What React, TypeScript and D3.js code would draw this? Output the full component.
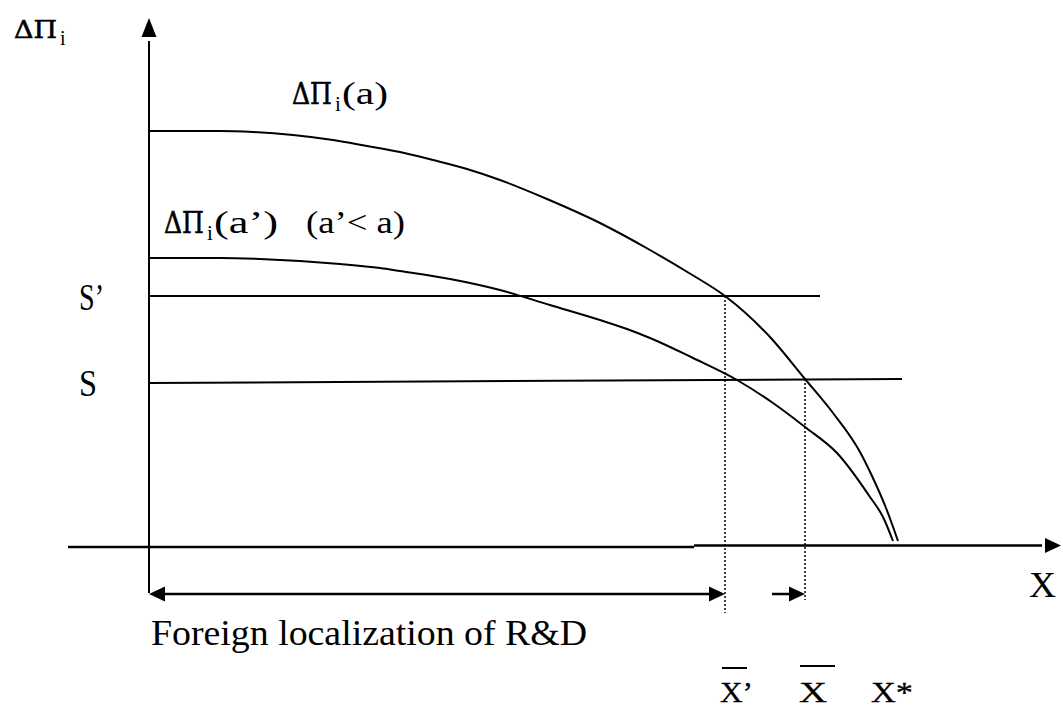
import React from "react";
import * as d3 from "d3";

// Curve ΔΠi(a): x (R&D abroad), y (profit gain)
const upperX = [0, 71, 104, 144, 184, 218, 251, 284, 318, 351, 398, 451, 501, 540, 576, 621, 656, 684, 711, 723, 737, 749];
const upperY = [415, 415, 414, 411, 406, 400, 394, 386, 377, 366, 347, 323, 296, 273, 250, 209, 167, 133, 94, 70, 38, 5];
// Curve ΔΠi(a')
const lowerX = [0, 71, 111, 151, 191, 231, 251, 301, 351, 401, 451, 478, 501, 544, 588, 624, 656, 688, 721, 734, 744];
const lowerY = [288, 288, 287, 285, 282, 278, 275, 267, 256, 241, 226, 217, 208, 188, 166, 143, 119, 93, 49, 29, 5];
// thresholds
const sPrimeLevel = 250;
const sLevel = [163, 167];
const sPrimeEnd = 671;
const sEnd = 753;
// critical points
const xBarPrime = 576;
const xBar = 656;
const xAxisStart = -81;
const yAxisBottom = -47;
const arrowLevel = -48;
const smallArrowStart = 623;

const W = 1063;
const H = 708;

export default function App() {
  const x = d3.scaleLinear().domain([0, 896]).range([149, 1045]);
  const y = d3.scaleLinear().domain([0, 510]).range([546, 36]);

  const line = d3
    .line<[number, number]>()
    .x((d) => x(d[0]))
    .y((d) => y(d[1]))
    .curve(d3.curveMonotoneX);

  const upper: [number, number][] = upperX.map((v, i) => [v, upperY[i]]);
  const lower: [number, number][] = lowerX.map((v, i) => [v, lowerY[i]]);

  const ax0 = x(0);
  const ah = 7.5;
  const arrowY = y(arrowLevel);

  const ts = { fontFamily: "Liberation Serif" } as React.CSSProperties;
  const gs = { fontFamily: "DejaVu Serif" } as React.CSSProperties;

  return (
    <svg
      width={W}
      height={H}
      style={{ position: "absolute", left: 0, top: 0, background: "#fff" }}
    >
      <rect x={0} y={0} width={W} height={H} fill="#fff" />
      {/* Y axis */}
      <line x1={ax0} x2={ax0} y1={y(yAxisBottom)} y2={y(505)} stroke="#000" strokeWidth={2} />
      <polygon points={`${ax0 - ah},${y(509)} ${ax0 + ah},${y(509)} ${ax0},${y(528)}`} fill="#000" />
      {/* X axis */}
      <line x1={x(xAxisStart)} x2={x(545)} y1={547} y2={547} stroke="#000" strokeWidth={2.5} />
      <line x1={x(545)} x2={x(893)} y1={545.5} y2={545.5} stroke="#000" strokeWidth={2.5} />
      <polygon points={`${x(896)},${545.5 - ah} ${x(896)},${545.5 + ah} ${x(912)},545.5`} fill="#000" />

      {/* S' and S levels */}
      <line x1={ax0} x2={x(sPrimeEnd)} y1={y(sPrimeLevel)} y2={y(sPrimeLevel)} stroke="#000" strokeWidth={2} />
      <line x1={ax0} x2={x(sEnd)} y1={y(sLevel[0])} y2={y(sLevel[1])} stroke="#000" strokeWidth={2} />

      {/* curves */}
      <path d={line(upper) || ""} fill="none" stroke="#000" strokeWidth={2} />
      <path d={line(lower) || ""} fill="none" stroke="#000" strokeWidth={2} />

      {/* dotted verticals */}
      <line x1={x(xBarPrime)} x2={x(xBarPrime)} y1={y(sPrimeLevel)} y2={y(-67)} stroke="#000" strokeWidth={1.5} strokeDasharray="2,2" />
      <line x1={x(xBar)} x2={x(xBar)} y1={y(167)} y2={y(-54)} stroke="#000" strokeWidth={1.5} strokeDasharray="2,2" />

      {/* double arrow */}
      <line x1={ax0 + 14} x2={x(xBarPrime) - 14} y1={arrowY} y2={arrowY} stroke="#000" strokeWidth={2.5} />
      <polygon points={`${ax0},${arrowY} ${ax0 + 16},${arrowY - ah} ${ax0 + 16},${arrowY + ah}`} fill="#000" />
      <polygon points={`${x(xBarPrime)},${arrowY} ${x(xBarPrime) - 16},${arrowY - ah} ${x(xBarPrime) - 16},${arrowY + ah}`} fill="#000" />
      {/* small arrow */}
      <line x1={x(smallArrowStart)} x2={x(xBar) - 14} y1={arrowY} y2={arrowY} stroke="#000" strokeWidth={2.5} />
      <polygon points={`${x(xBar)},${arrowY} ${x(xBar) - 16},${arrowY - ah} ${x(xBar) - 16},${arrowY + ah}`} fill="#000" />

      {/* labels */}
      <g fill="#000">
        <text style={gs} x={14} y={38} fontSize={25} textLength={43} lengthAdjust="spacingAndGlyphs" stroke="#000" strokeWidth={0.6}>ΔΠ</text>
        <text style={ts} x={60} y={45} fontSize={20}>i</text>

        <text style={gs} x={292} y={104} fontSize={29} textLength={40} lengthAdjust="spacingAndGlyphs" stroke="#000" strokeWidth={0.6}>ΔΠ</text>
        <text style={ts} x={335} y={111} fontSize={21}>i</text>
        <text style={ts} x={342} y={104} fontSize={31} textLength={46} lengthAdjust="spacingAndGlyphs">(a)</text>

        <text style={gs} x={164} y={233} fontSize={29} textLength={40} lengthAdjust="spacingAndGlyphs" stroke="#000" strokeWidth={0.6}>ΔΠ</text>
        <text style={ts} x={207} y={240} fontSize={21}>i</text>
        <text style={ts} x={214} y={233} fontSize={31} textLength={64} lengthAdjust="spacingAndGlyphs">(a’)</text>
        <text style={ts} x={306} y={233} fontSize={31} textLength={99} lengthAdjust="spacingAndGlyphs">(a’&lt; a)</text>

        <text style={ts} x={79} y={310} fontSize={37} textLength={25} lengthAdjust="spacingAndGlyphs">S’</text>
        <text style={ts} x={79} y={396} fontSize={37} textLength={18} lengthAdjust="spacingAndGlyphs">S</text>

        <text style={ts} x={1029} y={597} fontSize={36} textLength={27} lengthAdjust="spacingAndGlyphs">X</text>

        <text style={ts} x={151} y={645} fontSize={35} textLength={436} lengthAdjust="spacingAndGlyphs">Foreign localization of R&amp;D</text>

        <text style={ts} x={720} y={702} fontSize={30} textLength={33} lengthAdjust="spacingAndGlyphs" stroke="#000" strokeWidth={0.3}>X’</text>
        <line x1={722} x2={747} y1={668} y2={668} stroke="#000" strokeWidth={2} />
        <text style={ts} x={799} y={702} fontSize={30} textLength={28} lengthAdjust="spacingAndGlyphs" stroke="#000" strokeWidth={0.3}>X</text>
        <line x1={800} x2={835} y1={666} y2={666} stroke="#000" strokeWidth={2} />
        <text style={ts} x={871} y={702} fontSize={30} textLength={42} lengthAdjust="spacingAndGlyphs" stroke="#000" strokeWidth={0.3}>X*</text>
      </g>
    </svg>
  );
}
